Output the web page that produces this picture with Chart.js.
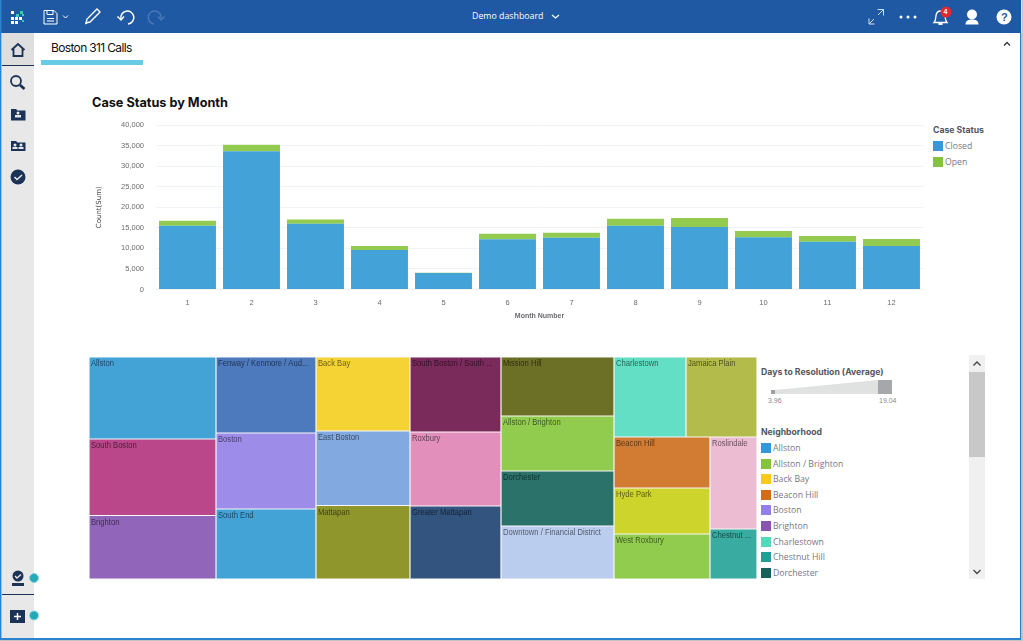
<!DOCTYPE html>
<html>
<head>
<meta charset="utf-8">
<title>Boston 311 Calls</title>
<script src="https://cdn.jsdelivr.net/npm/chart.js@4"></script>
<style>
  html, body { margin: 0; padding: 0; background: #fff; overflow: hidden; }
  #page { position: relative; width: 1023px; height: 641px; overflow: hidden; font-family: "Liberation Sans", sans-serif; }
  .abs { position: absolute; white-space: nowrap; }
  canvas { position: absolute; display: block; }
  .legend-title { color: #55555f; font: bold 8.7px Inter, sans-serif; }
  .legend-text { color: #777784; font: 8.7px "Open Sans", sans-serif; line-height: 12px; }
  .swatch { position: absolute; width: 10px; height: 10px; }
</style>
</head>
<body>
<div id="page">
  <!-- app frame and icons -->
  <svg class="abs" style="left:0;top:0" width="1023" height="641">
    <rect x="0" y="0" width="1021" height="33" fill="#1f58a3"/>
    <rect x="2" y="33" width="32" height="605" fill="#e8e8e8"/>
    <rect x="2" y="33" width="32" height="32" fill="#dedede"/>
    <rect x="2" y="65" width="32" height="1" fill="#1c3358"/>
    <rect x="2" y="594" width="32" height="1" fill="#1c3358"/>
    <rect x="0" y="0" width="1.5" height="640" fill="#2b83cf"/>
    <rect x="0" y="638" width="1021" height="2" fill="#2b83cf"/>
    <rect x="1020" y="33" width="1.5" height="607" fill="#2b83cf"/>
    <rect x="1021.5" y="0" width="1.5" height="641" fill="#c4c4c4"/>
    <rect x="0" y="640" width="1023" height="1" fill="#c4c4c4"/>
    <!-- logo -->
    <g fill="#fff">
      <rect x="11" y="11" width="3" height="3"/><rect x="11" y="17" width="3" height="3"/><rect x="15" y="17" width="3" height="3"/>
      <rect x="19" y="17" width="3" height="3"/><rect x="11" y="21" width="3" height="3"/><rect x="15" y="21" width="3" height="3"/>
    </g>
    <g fill="#3fc9b0"><rect x="20" y="11" width="3" height="3"/><rect x="16" y="14" width="3" height="3"/><rect x="22" y="14" width="2" height="2"/><rect x="22" y="20" width="2" height="2"/></g>
    <!-- save -->
    <g fill="none" stroke="#fff" stroke-width="1">
      <path d="M44 10.5h10l3 3v10.5h-13z"/><path d="M47 10.5v4h6v-4"/><path d="M47 18.5h7M47 21h7"/>
      <path d="M63 15.5l2.5 2.5l2.5-2.5"/>
      <path d="M86 23l1-4l10-10l3 3l-10 10z" stroke-width="1.4"/><path d="M85 24l2-1" />
      <path d="M121 19a6.5 6.5 0 1 1 7 5" stroke-width="1.5"/><path d="M117.5 16.5l3.5 3.5l3-3.5" stroke-width="1.5"/>
      <path d="M161 19a6.5 6.5 0 1 0-7 5" stroke="#4a78b5" stroke-width="1.5"/><path d="M164.5 16.5l-3.5 3.5l-3-3.5" stroke="#4a78b5" stroke-width="1.5"/>
      <!-- dashboard chevron -->
      <path d="M552 15l3.500 3l3.500-3" stroke-width="1.2"/>
      <!-- expand -->
      <path d="M869 24l5-5M869 18.500v5.500h5.500M878 15l5.500-5.500M877.500 9.500h6v6" stroke="#cfe0f2"/>
      <!-- bell -->
      <path d="M934 22.5c2-2 1.5-4 2-7c.5-3 2.5-4.5 4.500-4.500s4 1.500 4.500 4.500c.5 3 0 5 2 7z" stroke-width="1.300"/>
    </g>
    <g fill="#fff">
      <circle cx="901" cy="17" r="1.500"/><circle cx="908" cy="17" r="1.500"/><circle cx="915" cy="17" r="1.500"/>
      <rect x="938.500" y="23" width="4" height="2"/>
      <circle cx="972" cy="14.500" r="5"/><path d="M965.500 24.500c0-4 3-5 6.500-5s6.500 1 6.500 5z"/>
      <circle cx="1004" cy="17" r="7.500"/>
    </g>
    <circle cx="946" cy="12" r="5.500" fill="#e02a32"/>
    <!-- sidebar icons -->
    <g fill="none" stroke="#1c3358" stroke-width="1.800">
      <path d="M11.500 50l6.500-6l6.500 6M13.500 48.500v7.500h9v-7.500"/>
      <circle cx="16" cy="81" r="5"/><path d="M20 85l4.500 4" stroke-width="2.800"/>
    </g>
    <g fill="#1c3358">
      <path d="M11 109h5l1.500 1.500h8v10h-14.500z"/>
      <path d="M11 141h5l1.500 1.500h8v8.500h-14.500z"/>
      <circle cx="18" cy="177" r="7.500"/>
      <circle cx="18" cy="576" r="5.500"/><rect x="12" y="583" width="12" height="3"/>
      <rect x="10" y="610" width="15" height="13"/>
    </g>
    <g fill="#e8e8e8">
      <circle cx="18" cy="113" r="1.500"/><rect x="15" y="115" width="6" height="2.500"/>
      <circle cx="15" cy="145" r="1.500"/><rect x="12.500" y="147" width="5" height="2"/>
      <circle cx="21" cy="145" r="1.500"/><rect x="18.500" y="147" width="5" height="2"/>
    </g>
    <path d="M14.500 177l2.500 2.500l5-4.500" stroke="#e8e8e8" stroke-width="1.500" fill="none"/>
    <path d="M15 576l2 2l4-3.500" stroke="#e8e8e8" stroke-width="1.300" fill="none"/>
    <path d="M14 616.500h7M17.500 613v7" stroke="#fff" stroke-width="1.500"/>
    <circle cx="34" cy="578" r="4.500" fill="#25a9b8" stroke="#8ed6de" stroke-width="1"/>
    <circle cx="34" cy="615.500" r="4.500" fill="#25a9b8" stroke="#8ed6de" stroke-width="1"/>
    <!-- tab underline and collapse arrow -->
    <rect x="41" y="60" width="102" height="5" fill="#66cbe3"/>
    <path d="M1004 45.500l3-3l3 3" fill="none" stroke="#333" stroke-width="1.300"/>
    <!-- days to resolution slider -->
    <path d="M775 390L878 380V394H775z" fill="#e0e2e2"/>
    <rect x="771" y="390" width="4" height="4" fill="#a0a0a0"/>
    <rect x="878" y="380" width="14" height="14" fill="#a5a8ab"/>
    <!-- legend scrollbar -->
    <rect x="969" y="355" width="16" height="224" fill="#f0f0f0"/>
    <rect x="969" y="372" width="16" height="85" fill="#c8c8c8"/>
    <path d="M973.500 365.500l3.500-3.500l3.500 3.500M973.500 570l3.500 3.500l3.500-3.500" fill="none" stroke="#444" stroke-width="1.300"/>
  </svg>

  <div class="abs" style="left:472px;top:10px;color:#fff;font:8.800px 'Open Sans',sans-serif;line-height:13px">Demo dashboard</div>
  <div class="abs" style="left:943.500px;top:7px;color:#fff;font:bold 7px 'Liberation Sans',sans-serif;line-height:10px">4</div>
  <div class="abs" style="left:1001px;top:10px;color:#1f58a3;font:bold 11px 'Liberation Sans',sans-serif;line-height:14px">?</div>
  <div class="abs" style="left:51px;top:40px;color:#111;font:12px Inter,sans-serif;line-height:15px;letter-spacing:-0.65px">Boston 311 Calls</div>
  <div class="abs" style="left:92px;top:94.500px;color:#111;font:bold 12.700px Inter,sans-serif;line-height:16px">Case Status by Month</div>

  <canvas id="barChart" style="left:90px;top:109px" width="834" height="216"></canvas>
  <canvas id="treeChart" style="left:89px;top:357px" width="668" height="222"></canvas>

  <div class="abs legend-title" style="left:933px;top:125px">Case Status</div>
  <div id="statusLegend"></div>
  <div class="abs legend-title" style="left:761px;top:367px">Days to Resolution (Average)</div>
  <div class="abs" style="left:768px;top:397px;color:#8a8a8a;font:7px 'Liberation Sans',sans-serif">3.96</div>
  <div class="abs" style="left:879px;top:397px;color:#8a8a8a;font:7px 'Liberation Sans',sans-serif">19.04</div>
  <div class="abs legend-title" style="left:761px;top:427px">Neighborhood</div>
  <div id="hoodLegend"></div>
</div>

<script>
// bar chart data
const months = ['1', '2', '3', '4', '5', '6', '7', '8', '9', '10', '11', '12'];
const closedCounts = [15500, 33600, 16000, 9600, 4000, 12200, 12600, 15500, 15200, 12700, 11600, 10600];
const openCounts = [1200, 1600, 1000, 1000, 50, 1350, 1200, 1700, 2200, 1500, 1400, 1700];
const statusNames = ['Closed', 'Open'];
const statusColors = ['#43a3d8', '#92cb4f'];
const statusSwatches = ['#3498db', '#84c43c'];

// treemap data, sizes
const neighborhoods = [
  'Allston', 'South Boston', 'Brighton',
  'Fenway / Kenmore / Audubon Circle / Longwood', 'Boston', 'South End',
  'Back Bay', 'East Boston', 'Mattapan',
  'South Boston / South Boston Waterfront', 'Roxbury', 'Greater Mattapan',
  'Mission Hill', 'Allston / Brighton', 'Dorchester', 'Downtown / Financial District',
  'Charlestown', 'Jamaica Plain', 'Beacon Hill', 'Hyde Park', 'West Roxbury', 'Roslindale', 'Chestnut Hill'
];
const callCounts = [
  10414, 9715, 8065,
  7600, 7600, 7000,
  6956, 7003, 6909,
  6825, 6734, 6643,
  6667, 6215, 6215, 5989,
  5760, 5680, 4896, 4416, 4320, 4324, 2350
];
const cellColors = [
  '#43a3d7', '#b9478a', '#9165ba',
  '#4d7abd', '#9d8ce8', '#43a3d7',
  '#f5d334', '#82a9e0', '#8e962c',
  '#7a2a5b', '#e28fbb', '#33547f',
  '#6b7026', '#92cc4f', '#2b726b', '#bacdee',
  '#62dfc4', '#b3bb4a', '#d27b32', '#cdd42b', '#92cc4f', '#ebbcd2', '#39aba1'
];
// how the cells nest: columns, then rows, then columns again
const cellGroups = [
  [0, 1, 2],
  [3, 4, 5],
  [6, 7, 8],
  [9, 10, 11],
  [12, 13, 14, 15],
  [[16, 17], [[18, 19, 20], [21, 22]]]
];
const legendNames = ['Allston', 'Allston / Brighton', 'Back Bay', 'Beacon Hill', 'Boston', 'Brighton', 'Charlestown', 'Chestnut Hill', 'Dorchester'];
const legendColors = ['#3498db', '#84c43c', '#f9c91f', '#d06c1a', '#9280e8', '#8855b0', '#52dabb', '#239e93', '#18605a'];

function groupSize(group) {
  if (typeof group === 'number') return callCounts[group];
  return group.reduce(function (sum, child) { return sum + groupSize(child); }, 0);
}

// slice and dice the groups into the unit square
function layoutCells(group, x0, y0, x1, y1, splitX, cells) {
  if (typeof group === 'number') {
    cells[group] = { x: (x0 + x1) / 2, y: (y0 + y1) / 2, x0: x0, y0: y0, x1: x1, y1: y1 };
    return cells;
  }
  const total = groupSize(group);
  let start = splitX ? x0 : y0;
  const span = splitX ? x1 - x0 : y1 - y0;
  group.forEach(function (child) {
    const end = start + span * groupSize(child) / total;
    if (splitX) layoutCells(child, start, y0, end, y1, false, cells);
    else layoutCells(child, x0, start, x1, end, true, cells);
    start = end;
  });
  return cells;
}

// small dataset controller so the cells are real chart elements
class TreemapController extends Chart.DatasetController {
  update(mode) {
    this.updateElements(this._cachedMeta.data, 0, this._cachedMeta.data.length, mode);
  }
  updateElements(elements, start, count, mode) {
    const xScale = this._cachedMeta.xScale;
    const yScale = this._cachedMeta.yScale;
    const cells = this.getDataset().data;
    for (let i = start; i < start + count; i++) {
      const left = xScale.getPixelForValue(cells[i].x0);
      const right = xScale.getPixelForValue(cells[i].x1);
      this.updateElement(elements[i], i, {
        x: (left + right) / 2,
        y: yScale.getPixelForValue(cells[i].y0),
        base: yScale.getPixelForValue(cells[i].y1),
        width: right - left,
        horizontal: false,
        inflateAmount: 0,
        borderSkipped: {},
        options: this.resolveDataElementOptions(i, mode)
      }, mode);
    }
  }
}
TreemapController.id = 'treemap';
TreemapController.defaults = { dataElementType: 'bar', datasetElementType: false };
Chart.register(TreemapController);

// cell labels are tall and condensed in the reference
const labelSqueeze = 0.83;

function fitLabel(ctx, text, maxWidth) {
  if (ctx.measureText(text).width * labelSqueeze <= maxWidth) return text;
  let cut = text;
  while (cut.length > 1 && ctx.measureText(cut + '...').width * labelSqueeze > maxWidth) cut = cut.slice(0, -1);
  return cut + '...';
}

const cellLabels = {
  id: 'cellLabels',
  afterDatasetsDraw: function (chart) {
    const ctx = chart.ctx;
    ctx.save();
    ctx.font = '9.200px "Liberation Sans", sans-serif';
    ctx.textBaseline = 'middle';
    ctx.fillStyle = 'rgba(0, 0, 0, 0.58)';
    chart.getDatasetMeta(0).data.forEach(function (el, i) {
      const label = fitLabel(ctx, neighborhoods[i], el.width - 8);
      ctx.fillText(label, el.x - el.width / 2 + 2, el.y + 6.8, ctx.measureText(label).width * labelSqueeze);
    });
    ctx.restore();
  }
};

Chart.defaults.animation = false;
Chart.defaults.responsive = false;

new Chart(document.getElementById('barChart'), {
  type: 'bar',
  data: {
    labels: months,
    datasets: [
      { label: statusNames[0], data: closedCounts, backgroundColor: statusColors[0] },
      { label: statusNames[1], data: openCounts, backgroundColor: statusColors[1] }
    ]
  },
  options: {
    barPercentage: 0.89,
    categoryPercentage: 1,
    layout: { padding: { top: 4.5, right: 0.5 } },
    plugins: { legend: { display: false }, tooltip: { enabled: false } },
    scales: {
      x: {
        stacked: true,
        grid: { display: false, drawTicks: false },
        border: { display: false },
        ticks: { color: '#6b6b6b', font: { family: 'Liberation Sans', size: 7.5 }, padding: 9, maxRotation: 0 },
        title: { display: true, text: 'Month Number', color: '#6a6a70', font: { family: 'Liberation Sans', size: 7, weight: 'bold' }, padding: { top: 0, bottom: 5 } },
        afterFit: function (scale) { scale.height = 35.5; }
      },
      y: {
        stacked: true,
        min: 0,
        max: 40000,
        grid: { color: '#f3f3f3', drawTicks: false },
        border: { display: false },
        ticks: { stepSize: 5000, color: '#6b6b6b', font: { family: 'Liberation Sans', size: 7.5 }, padding: 11.5 },
        title: { display: true, text: 'Count(Sum)', color: '#444', font: { family: 'DejaVu Sans', size: 7 }, padding: { top: 5, bottom: 0 } },
        afterFit: function (scale) { scale.width = 65.5; }
      }
    }
  }
});

new Chart(document.getElementById('treeChart'), {
  type: 'treemap',
  data: {
    datasets: [{
      data: layoutCells(cellGroups, 0, 0, 1, 1, true, []),
      parsing: false,
      backgroundColor: cellColors,
      borderColor: '#f4f4f4',
      borderWidth: 0.6
    }]
  },
  options: {
    plugins: { legend: { display: false }, tooltip: { enabled: false } },
    scales: {
      x: { type: 'linear', min: 0, max: 1, display: false },
      y: { type: 'linear', min: 0, max: 1, reverse: true, display: false }
    }
  },
  plugins: [cellLabels]
});

// html legends
function addLegendRow(parent, name, color, left, top) {
  const swatch = document.createElement('div');
  swatch.className = 'swatch';
  swatch.style.left = left + 'px';
  swatch.style.top = (top - 5) + 'px';
  swatch.style.background = color;
  parent.appendChild(swatch);
  const label = document.createElement('div');
  label.className = 'abs legend-text';
  label.style.left = (left + 12) + 'px';
  label.style.top = (top - 6) + 'px';
  label.textContent = name;
  parent.appendChild(label);
}

statusNames.forEach(function (name, i) {
  addLegendRow(document.getElementById('statusLegend'), name, statusSwatches[i], 933, 146 + i * 16);
});
legendNames.forEach(function (name, i) {
  addLegendRow(document.getElementById('hoodLegend'), name, legendColors[i], 761, 448 + i * 15.6);
});
</script>
</body>
</html>
